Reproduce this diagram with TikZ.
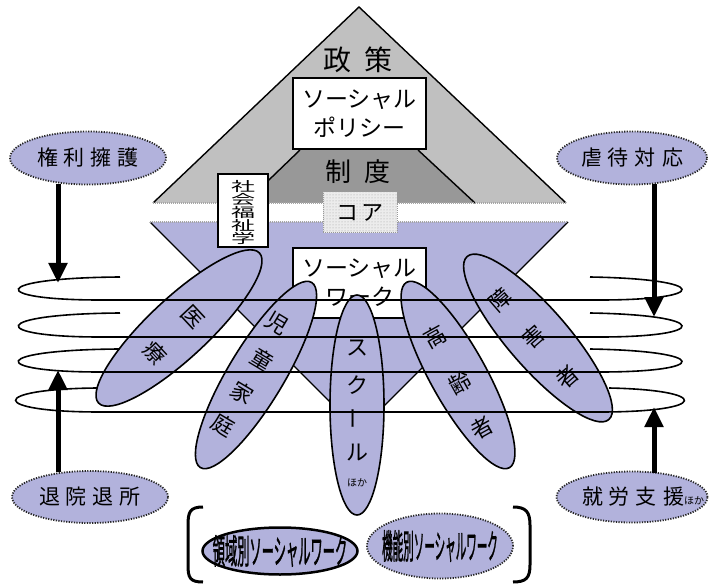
\documentclass[tikz,border=0pt]{standalone}
\usepackage{fontspec}
\newfontfamily\jp{Noto Sans CJK JP}
\newfontfamily\jpb[FakeBold=2]{Noto Sans CJK JP}
\usetikzlibrary{shapes.geometric,arrows.meta,calc,patterns}
\definecolor{lav}{RGB}{178,178,220}
\definecolor{lgray}{RGB}{192,192,192}
\definecolor{dgray}{RGB}{152,152,152}
\newcommand\gp{\hspace{6pt}}
\begin{document}
\begin{tikzpicture}[x=1pt,y=-1pt,
  every node/.style={font=\jp},
  tag/.style={ellipse, fill=lav, draw=black!85, line width=1.8pt, dash pattern=on 1.2pt off 1.4pt,
    inner sep=0pt, font=\jp\fontsize{21}{21}\selectfont},
  field/.style={ellipse, fill=lav, draw=black, line width=1.6pt, inner sep=0pt},
  fch/.style={font=\jp\fontsize{22}{22}\selectfont, inner sep=0pt},
  ring/.style={line width=1.6pt},
  bigarrow/.style={line width=5pt, -{Triangle[length=20pt,width=18pt]}},
  whitebox/.style={draw=black, line width=1.2pt, fill=white, inner sep=0pt},
  edge/.style={line width=1.4pt},
  dotedge/.style={gray!70, line width=1.4pt, dash pattern=on 1pt off 1pt},
  bigtxt/.style={font=\jp\fontsize{23}{29}\selectfont, align=center},
  condensed/.style={font=\jpb\fontsize{34}{34}\selectfont, inner sep=0pt},
]
\useasboundingbox (0,0) rectangle (709,585);
\fill[white] (0,0) rectangle (709,585);

% upper pyramid
\fill[lgray] (359,7) -- (566,203) -- (153,203) -- cycle;
\fill[dgray] (300,150) -- (418,150) -- (475,203) -- (245,203) -- cycle;
\draw[edge] (153,203) -- (359,7) -- (566,203);
\draw[edge] (245,203) -- (300,150) (418,150) -- (475,203);
\draw[dotedge] (153,203) -- (566,203);
\node (seisaku) at (358,60) {\fontsize{28}{28}\selectfont 政\hspace{13pt}策};
\node[whitebox, bigtxt, minimum width=133pt, minimum height=71pt] (policy) at (359.5,113.5) {ソーシャル\\ポリシー};
\node (seido) at (358,172) {\fontsize{26}{26}\selectfont 制\hspace{14pt}度};

% lower inverted triangle
\fill[lav] (150,222) -- (568,222) -- (359,431) -- cycle;
\draw[edge] (150,222) -- (359,431) -- (568,222);
\draw[dotedge] (150,222) -- (568,222);

\node[fill=gray!15, postaction={pattern=dots, pattern color=gray!75}, draw=gray!80,
  line width=1pt, dash pattern=on 1pt off 1pt, minimum width=74pt, minimum height=41pt,
  font=\jp\fontsize{22}{22}\selectfont] (core) at (360,212.5) {コ\hspace{4pt}ア};

\node[whitebox, minimum width=50pt, minimum height=73pt] (swbox) at (243,210.5) {};
\node[yscale=0.55, font=\jp\fontsize{24}{24}\selectfont, align=center, inner sep=0pt] (swtxt) at ($(swbox)+(0,2)$) {社\\会\\福\\祉\\学};

\node[whitebox, bigtxt, minimum width=133pt, minimum height=70pt] (swork) at (359.5,283) {ソーシャル\\ワーク};

% field ellipses
\node[field, minimum width=220pt, minimum height=60pt, rotate=43] (iryo) at (179,328) {};
\node[fch, rotate=-47] at (193,317) {医};
\node[fch, rotate=-47] at (155,353) {療};

\node[field, minimum width=216pt, minimum height=56pt, rotate=59] (jido) at (256,375) {};
\node[fch, rotate=-31] at (277,323) {児};
\node[fch, rotate=-31] at (262,360) {童};
\node[fch, rotate=-31] at (242,393) {家};
\node[fch, rotate=-31] at (223,425) {庭};

\node[field, minimum width=54pt, minimum height=220pt] (school) at (357,405) {};
\node[fch] at (357,348) {ス};
\node[fch] at (357,385) {ク};
\node[fch, rotate=90] at (357,418) {ー};
\node[fch] at (357,453) {ル};
\node[font=\jp\fontsize{10}{10}\selectfont, inner sep=0pt] at (357,483) {ほか};

\node[field, minimum width=212pt, minimum height=56pt, rotate=-61] (korei) at (458,375) {};
\node[fch, rotate=29] at (435,337) {高};
\node[fch, rotate=29] at (460,383) {齢};
\node[fch, rotate=29] at (482,428) {者};

\node[field, minimum width=216pt, minimum height=60pt, rotate=-49] (shogai) at (538,338) {};
\node[fch, rotate=41] at (500,300) {障};
\node[fch, rotate=41] at (533,337) {害};
\node[fch, rotate=41] at (567,377) {者};

% rings
\foreach \yb/\yf/\xs/\xe in {277/300/120/590, 313/337/120/590, 349/372/119/590, 388/412/97/609}
  \draw[ring] (\xs,\yb) .. controls (-12,\yb+1) and (-12,\yf) .. (100,\yf) -- (600,\yf)
    .. controls (711,\yf) and (711,\yb+2) .. (\xe,\yb);

% tags
\node[tag, minimum width=156pt, minimum height=53pt] (kenri) at (88,158) {権\gp 利\gp 擁\gp 護};
\node[tag, minimum width=150pt, minimum height=53pt] (gyaku) at (632,158) {虐\gp 待\gp 対\gp 応};
\node[tag, minimum width=156pt, minimum height=52pt] (taiin) at (90,497) {退\gp 院\gp 退\gp 所};
\node[tag, minimum width=151pt, minimum height=51pt] (shuro) at (632,497) {};
\node[font=\jp\fontsize{21}{21}\selectfont, inner sep=0pt] at ($(shuro)+(11,0)$) {就\gp 労\gp 支\gp 援{\fontsize{10}{10}\selectfont ほか}};

% arrows
\coordinate (tl) at (58,283);
\coordinate (bl) at (58,370);
\coordinate (tr) at (654,317);
\coordinate (br) at (654,407);
\draw[bigarrow] ($(kenri.south -| tl)+(0,-1.5)$) -- (tl);
\draw[bigarrow] ($(gyaku.south -| tr)+(0,-1.5)$) -- (tr);
\draw[bigarrow] ($(taiin.north -| bl)+(0,2)$) -- (bl);
\draw[bigarrow] ($(shuro.north -| br)+(0,2)$) -- (br);

% bottom bracket
\draw[line width=3pt] (203,507) .. controls (190,507) and (188,512) .. (188,525) -- (188,565)
  .. controls (188,578) and (190,582) .. (203,582);
\draw[line width=3pt] (513,507) .. controls (526,507) and (530,512) .. (530,525) -- (530,565)
  .. controls (530,578) and (526,582) .. (513,582);
\node[field, line width=2.5pt, minimum width=155pt, minimum height=47pt] (ryoiki) at (280,551) {};
\node[condensed, xscale=0.36] at (ryoiki) {領域別ソーシャルワーク};
\node[tag, minimum width=146pt, minimum height=65pt] (kino) at (440,546) {};
\node[condensed, xscale=0.31] at (kino) {機能別ソーシャルワーク};
\end{tikzpicture}
\end{document}
